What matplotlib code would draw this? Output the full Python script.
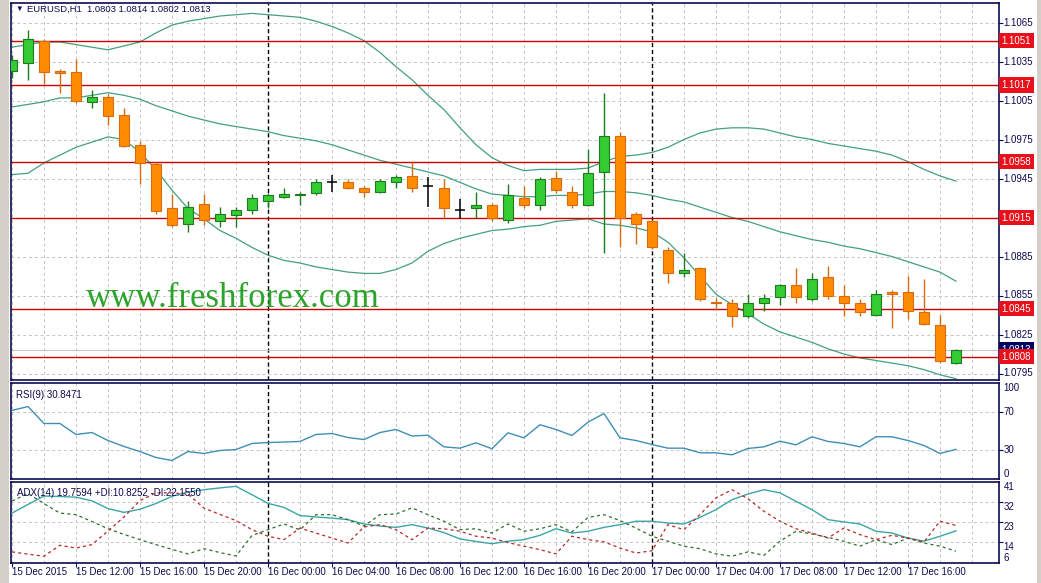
#!/usr/bin/env python3
"""EURUSD H1 chart with Bollinger bands, RSI and ADX panels (MT4 look)."""
import matplotlib

matplotlib.use("Agg")
import matplotlib.pyplot as plt  # noqa: E402
import matplotlib.transforms as mtransforms  # noqa: E402
import numpy as np  # noqa: E402

OPENS = [1.1028, 1.1034, 1.1051, 1.1028, 1.1027, 1.1004, 1.1008, 1.0994, 1.0971, 1.0956,
         1.0922, 1.0910, 1.0925, 1.0912, 1.0917, 1.0921, 1.0928, 1.0931, 1.0932, 1.0934,
         1.0942, 1.0942, 1.0938, 1.0935, 1.0942, 1.0947, 1.0939, 1.0938, 1.0921, 1.0922,
         1.0925, 1.0913, 1.0930, 1.0925, 1.0945, 1.0935, 1.0925, 1.0950, 1.0978, 1.0918,
         1.0912, 1.0890, 1.0872, 1.0876, 1.0850, 1.0849, 1.0839, 1.0849, 1.0854, 1.0863,
         1.0852, 1.0869, 1.0855, 1.0849, 1.0840, 1.0858, 1.0858, 1.0842, 1.0832, 1.0803]
HIGHS = [1.1040, 1.1059, 1.1052, 1.1029, 1.1037, 1.1013, 1.1010, 1.0999, 1.0974, 1.0958,
         1.0933, 1.0928, 1.0933, 1.0923, 1.0923, 1.0933, 1.0934, 1.0938, 1.0935, 1.0945,
         1.0948, 1.0945, 1.0939, 1.0945, 1.0948, 1.0958, 1.0946, 1.0945, 1.0929, 1.0935,
         1.0926, 1.0941, 1.0939, 1.0946, 1.0951, 1.0939, 1.0968, 1.1011, 1.0981, 1.0919,
         1.0913, 1.0892, 1.0888, 1.0877, 1.0853, 1.0852, 1.0856, 1.0856, 1.0864, 1.0876,
         1.0872, 1.0878, 1.0863, 1.0852, 1.0859, 1.0859, 1.0870, 1.0868, 1.0840, 1.0814]
LOWS = [1.1022, 1.1021, 1.1018, 1.1011, 1.1003, 1.0999, 1.0986, 1.0969, 1.0941, 1.0918,
        1.0908, 1.0904, 1.0909, 1.0908, 1.0908, 1.0918, 1.0922, 1.0930, 1.0925, 1.0932,
        1.0935, 1.0937, 1.0931, 1.0934, 1.0938, 1.0935, 1.0923, 1.0915, 1.0914, 1.0915,
        1.0912, 1.0911, 1.0922, 1.0921, 1.0934, 1.0922, 1.0924, 1.0888, 1.0892, 1.0895,
        1.0891, 1.0865, 1.0869, 1.0851, 1.0844, 1.0831, 1.0838, 1.0843, 1.0848, 1.0849,
        1.0851, 1.0852, 1.0839, 1.0839, 1.0839, 1.0830, 1.0837, 1.0832, 1.0803, 1.0802]
CLOSES = [1.1036, 1.1052, 1.1027, 1.1026, 1.1005, 1.1008, 1.0993, 1.0970, 1.0957, 1.0920,
          1.0909, 1.0923, 1.0913, 1.0918, 1.0921, 1.0930, 1.0932, 1.0933, 1.0933, 1.0942,
          1.0942, 1.0938, 1.0935, 1.0943, 1.0946, 1.0938, 1.0939, 1.0922, 1.0921, 1.0925,
          1.0915, 1.0932, 1.0925, 1.0945, 1.0936, 1.0925, 1.0949, 1.0978, 1.0915, 1.0910,
          1.0892, 1.0872, 1.0875, 1.0852, 1.0849, 1.0839, 1.0849, 1.0853, 1.0863, 1.0854,
          1.0868, 1.0855, 1.0849, 1.0842, 1.0856, 1.0856, 1.0843, 1.0833, 1.0805, 1.0813]

BB_UPPER = [1.1046, 1.1048, 1.1050, 1.1050, 1.1048, 1.1046, 1.1044, 1.1047, 1.1050, 1.1057,
            1.1063, 1.1066, 1.1068, 1.1070, 1.1071, 1.1072, 1.1071, 1.1070, 1.1069, 1.1066,
            1.1062, 1.1057, 1.1051, 1.1042, 1.1031, 1.1021, 1.1009, 1.0998, 1.0984, 1.0971,
            1.0961, 1.0955, 1.0951, 1.0952, 1.0952, 1.0952, 1.0953, 1.0958, 1.0962, 1.0963,
            1.0965, 1.0969, 1.0975, 1.0980, 1.0983, 1.0984, 1.0984, 1.0983, 1.0980, 1.0977,
            1.0975, 1.0972, 1.0970, 1.0968, 1.0966, 1.0963, 1.0958, 1.0952, 1.0947, 1.0943]
BB_MID = [1.1000, 1.1002, 1.1004, 1.1007, 1.1007, 1.1009, 1.1011, 1.1009, 1.1006, 1.1001,
          1.0997, 1.0993, 1.0990, 1.0987, 1.0985, 1.0983, 1.0981, 1.0978, 1.0976, 1.0974,
          1.0971, 1.0967, 1.0963, 1.0959, 1.0956, 1.0953, 1.0950, 1.0947, 1.0942, 1.0937,
          1.0933, 1.0932, 1.0931, 1.0931, 1.0932, 1.0932, 1.0933, 1.0935, 1.0935, 1.0934,
          1.0932, 1.0929, 1.0927, 1.0923, 1.0919, 1.0915, 1.0912, 1.0908, 1.0904, 1.0901,
          1.0898, 1.0896, 1.0893, 1.0891, 1.0888, 1.0885, 1.0881, 1.0877, 1.0873, 1.0866]
BB_LOWER = [1.0948, 1.0949, 1.0957, 1.0963, 1.0969, 1.0973, 1.0977, 1.0975, 1.0965, 1.0952,
            1.0936, 1.0922, 1.0914, 1.0905, 1.0899, 1.0892, 1.0886, 1.0882, 1.0880, 1.0877,
            1.0875, 1.0873, 1.0872, 1.0872, 1.0875, 1.0880, 1.0889, 1.0895, 1.0899, 1.0902,
            1.0905, 1.0906, 1.0908, 1.0909, 1.0912, 1.0913, 1.0914, 1.0910, 1.0909, 1.0907,
            1.0904, 1.0896, 1.0884, 1.0870, 1.0856, 1.0848, 1.0841, 1.0833, 1.0827, 1.0823,
            1.0819, 1.0814, 1.0810, 1.0807, 1.0805, 1.0803, 1.0801, 1.0798, 1.0794, 1.0791]

RSI = [71.4, 75.5, 57.8, 57.8, 46.4, 48.4, 40.1, 33.9, 28.6, 22.4,
       19.3, 28.6, 26.6, 29.7, 30.7, 37.0, 38.0, 38.5, 39.1, 46.4,
       47.4, 43.2, 41.1, 48.4, 51.6, 44.8, 45.6, 33.5, 32.1, 37.7,
       31.5, 48.1, 42.9, 56.5, 51.6, 45.3, 59.2, 68.2, 42.9, 40.1,
       35.9, 32.1, 32.1, 27.3, 27.3, 25.2, 31.8, 33.5, 39.4, 35.6,
       44.0, 39.1, 37.0, 33.5, 44.0, 44.0, 40.1, 34.9, 26.6, 30.85]

ADX = [27.6, 31.4, 35.1, 34.9, 34.6, 33.0, 29.6, 27.9, 29.3, 31.8,
       35.0, 36.9, 37.9, 38.7, 39.4, 35.7, 31.9, 30.1, 26.5, 25.9,
       25.4, 24.7, 22.8, 21.9, 21.3, 22.5, 21.0, 19.0, 16.2, 15.1,
       14.1, 15.2, 15.9, 17.8, 20.7, 18.8, 19.6, 21.3, 22.5, 24.0,
       24.0, 23.2, 22.8, 25.7, 29.1, 33.5, 36.0, 37.9, 36.5, 32.8,
       29.1, 24.7, 23.7, 22.8, 19.6, 18.8, 16.6, 15.2, 17.4, 19.76]
PLUS_DI = [32.9, 36.2, 31.8, 27.6, 26.9, 23.9, 20.7, 18.2, 15.9, 13.7,
           11.6, 9.6, 11.9, 10.2, 8.7, 17.7, 20.3, 22.8, 20.2, 26.9,
           26.9, 24.7, 21.9, 26.9, 27.2, 29.9, 26.9, 24.0, 20.3, 20.7,
           18.8, 22.8, 19.6, 20.7, 22.5, 19.3, 25.7, 26.9, 24.3, 21.0,
           17.4, 15.2, 13.0, 11.9, 9.6, 8.6, 10.5, 9.0, 15.2, 19.6,
           18.4, 16.9, 15.2, 13.0, 15.9, 13.7, 16.6, 14.4, 13.0, 10.83]
MINUS_DI = [10.5, 9.5, 8.6, 13.4, 12.2, 13.7, 19.7, 25.9, 33.1, 36.5,
            36.5, 36.0, 29.8, 27.0, 24.3, 20.3, 17.4, 15.9, 21.0, 18.8,
            16.6, 14.4, 21.5, 22.5, 20.3, 15.9, 21.0, 20.7, 19.6, 17.4,
            16.6, 14.6, 13.0, 11.5, 9.6, 17.4, 15.9, 14.9, 12.2, 10.0,
            11.0, 22.5, 20.3, 26.9, 34.3, 37.9, 33.9, 28.4, 24.0, 20.7,
            18.8, 16.6, 21.0, 18.1, 15.9, 17.8, 16.6, 14.9, 24.0, 22.16]

LEVELS = [1.1051, 1.1017, 1.0958, 1.0915, 1.0845, 1.0808]
PRICE_TICKS = [1.1065, 1.1035, 1.1005, 1.0975, 1.0945, 1.0915, 1.0885, 1.0855, 1.0825, 1.0795]
RSI_TICKS = [100, 70, 30, 0]
ADX_TICKS = [41.3, 32.5, 23.7, 14.9, 5.6]
ADX_TICK_LABELS = ["41", "32", "23", "14", "6"]
TIME_LABELS = ["15 Dec 2015", "15 Dec 12:00", "15 Dec 16:00", "15 Dec 20:00",
               "16 Dec 00:00", "16 Dec 04:00", "16 Dec 08:00", "16 Dec 12:00",
               "16 Dec 16:00", "16 Dec 20:00", "17 Dec 00:00", "17 Dec 04:00",
               "17 Dec 08:00", "17 Dec 12:00", "17 Dec 16:00"]
DAY_BREAKS = [16, 40]

W, H = 1041, 583
NAVY = "#0a0a50"
GRID = "#c4c4c4"
FONT = ["Liberation Sans", "DejaVu Sans"]


def box(x0, y0, x1, y1):
    """Figure-fraction rect from pixel edges (origin top-left)."""
    return [x0 / W, 1 - y1 / H, (x1 - x0) / W, (y1 - y0) / H]


def style_axes(ax):
    ax.set_xlim(-0.06, 61.69)
    ax.set_facecolor("white")
    for spine in ax.spines.values():
        spine.set_color(NAVY)
        spine.set_linewidth(1.2)
    ax.tick_params(axis="x", bottom=False, labelbottom=False)
    ax.tick_params(axis="y", left=False, labelleft=False, right=True, labelright=False,
                   length=3, width=0.8, color=NAVY, direction="out")
    for i in range(0, 62, 2):
        if i not in DAY_BREAKS:
            ax.axvline(i, color=GRID, lw=0.7, dashes=(3, 3), zorder=0)
    for i in DAY_BREAKS:
        ax.axvline(i, color="black", lw=1.0, dashes=(3, 2), zorder=1)


def right_labels(ax, values, labels, aligns):
    trans = mtransforms.blended_transform_factory(ax.transAxes, ax.transData)
    for v, lab, va in zip(values, labels, aligns):
        ax.text(1.0045, v, lab, transform=trans, ha="left", va=va, fontsize=7,
                color=NAVY, family=FONT, clip_on=False)


fig = plt.figure(figsize=(W / 100, H / 100), dpi=100)
fig.patch.set_facecolor("white")
fig.patches.append(plt.Rectangle((0, 0), 9 / W, 1, transform=fig.transFigure,
                                 fc="#d4d0c8", ec="none"))
fig.patches.append(plt.Rectangle((1037 / W, 0), 4 / W, 1, transform=fig.transFigure,
                                 fc="#d4d0c8", ec="none"))

ax_p = fig.add_axes(box(11, 3, 999, 380))
ax_r = fig.add_axes(box(11, 383, 999, 479))
ax_a = fig.add_axes(box(11, 482, 999, 563))

x = np.arange(len(OPENS))
o = np.array(OPENS)
h = np.array(HIGHS)
lo = np.array(LOWS)
c = np.array(CLOSES)

# --- price panel ---
style_axes(ax_p)
ax_p.set_ylim(1.0790, 1.1080)
ax_p.set_yticks(PRICE_TICKS)
for p in PRICE_TICKS:
    ax_p.axhline(p, color=GRID, lw=0.7, dashes=(3, 3), zorder=0)

for band in (BB_UPPER, BB_MID, BB_LOWER):
    ax_p.plot(x, band, color="#43a07c", lw=0.9, zorder=2)

width = 0.62
bull = c > o
bear = c < o
doji = c == o
ax_p.vlines(x[bull], lo[bull], h[bull], color="#1e7a1e", lw=1, zorder=3)
ax_p.bar(x[bull], (c - o)[bull], bottom=o[bull], width=width, color="#33cc33",
         edgecolor="#1e7a1e", lw=0.8, zorder=4)
ax_p.vlines(x[bear], lo[bear], h[bear], color="#d86a10", lw=1, zorder=3)
ax_p.bar(x[bear], (o - c)[bear], bottom=c[bear], width=width, color="#ff8c00",
         edgecolor="#d86a10", lw=0.8, zorder=4)
ax_p.vlines(x[doji], lo[doji], h[doji], color="black", lw=1.1, zorder=3)
ax_p.hlines(c[doji], x[doji] - width / 2, x[doji] + width / 2, color="black", lw=1.1,
            zorder=4)

ax_p.axhline(CLOSES[-1], color="#c8c8c8", lw=0.8, zorder=1)
for lvl in LEVELS:
    ax_p.axhline(lvl, color="#cc0000", lw=1.0, zorder=2)

right_labels(ax_p, PRICE_TICKS, [f"{p:.4f}" for p in PRICE_TICKS], ["center"] * len(PRICE_TICKS))
trans_p = mtransforms.blended_transform_factory(ax_p.transAxes, ax_p.transData)
ax_p.text(1.0025, CLOSES[-1], f"{CLOSES[-1]:.4f}", transform=trans_p, ha="left",
          va="center", fontsize=7, color="white", family=FONT, clip_on=False, zorder=6,
          bbox=dict(boxstyle="square,pad=0.28", fc="#000060", ec="none"))
for lvl in LEVELS:
    ax_p.text(1.0025, lvl, f"{lvl:.4f}", transform=trans_p, ha="left", va="center",
              fontsize=7, color="white", family=FONT, clip_on=False, zorder=7,
              bbox=dict(boxstyle="square,pad=0.28", fc="#e8101a", ec="none"))

fig.text(15 / W, 1 - 9 / H, "\u25bc", fontsize=5.5, color=NAVY, family=FONT,
         ha="left", va="center")
fig.text(27 / W, 1 - 9 / H, "EURUSD,H1  1.0803 1.0814 1.0802 1.0813", fontsize=6.8,
         color=NAVY, family=FONT, ha="left", va="center")
fig.text(86 / W, 1 - 307 / H, "www.freshforex.com", fontsize=25, color="#2ca42c",
         family=["Liberation Serif", "DejaVu Serif"], ha="left", va="baseline")

# --- RSI panel ---
style_axes(ax_r)
ax_r.set_ylim(0, 100)
ax_r.set_yticks([70, 30])
for v in (70, 30):
    ax_r.axhline(v, color=GRID, lw=0.7, dashes=(3, 3), zorder=0)
ax_r.plot(x, RSI, color="#3f8fb5", lw=1.0, zorder=3)
right_labels(ax_r, RSI_TICKS, [str(v) for v in RSI_TICKS], ["top", "center", "center", "bottom"])
ax_r.text(0.005, 0.93, "RSI(9) 30.8471", transform=ax_r.transAxes, fontsize=7,
          color=NAVY, family=FONT, ha="left", va="top")

# --- ADX panel ---
style_axes(ax_a)
ax_a.set_ylim(5.6, 41.3)
ax_a.set_yticks(ADX_TICKS[1:4])
for v in ADX_TICKS[1:4]:
    ax_a.axhline(v, color=GRID, lw=0.7, dashes=(3, 3), zorder=0)
ax_a.plot(x, ADX, color="#3aa6a4", lw=1.0, zorder=3)
ax_a.plot(x, PLUS_DI, color="#2e6e2e", lw=0.9, dashes=(2.5, 2.5), zorder=3)
ax_a.plot(x, MINUS_DI, color="#b82828", lw=0.9, dashes=(2.5, 2.5), zorder=3)
right_labels(ax_a, ADX_TICKS, ADX_TICK_LABELS, ["top", "top", "top", "top", "bottom"])
ax_a.text(0.006, 0.93, "ADX(14) 19.7594 +DI:10.8252 -DI:22.1550", transform=ax_a.transAxes,
          fontsize=7, color=NAVY, family=FONT, ha="left", va="top")

ax_a.set_xticks(range(0, 60, 4))
ax_a.tick_params(axis="x", bottom=True, length=3, width=0.8, color=NAVY, direction="out")
trans_x = mtransforms.blended_transform_factory(ax_a.transData, fig.transFigure)
for i, lab in zip(range(0, 60, 4), TIME_LABELS):
    ax_a.text(i, 1 - 572 / H, lab, transform=trans_x, fontsize=7, color=NAVY,
              family=FONT, ha="left", va="center", clip_on=False)

fig.savefig("out.png", dpi=100)
